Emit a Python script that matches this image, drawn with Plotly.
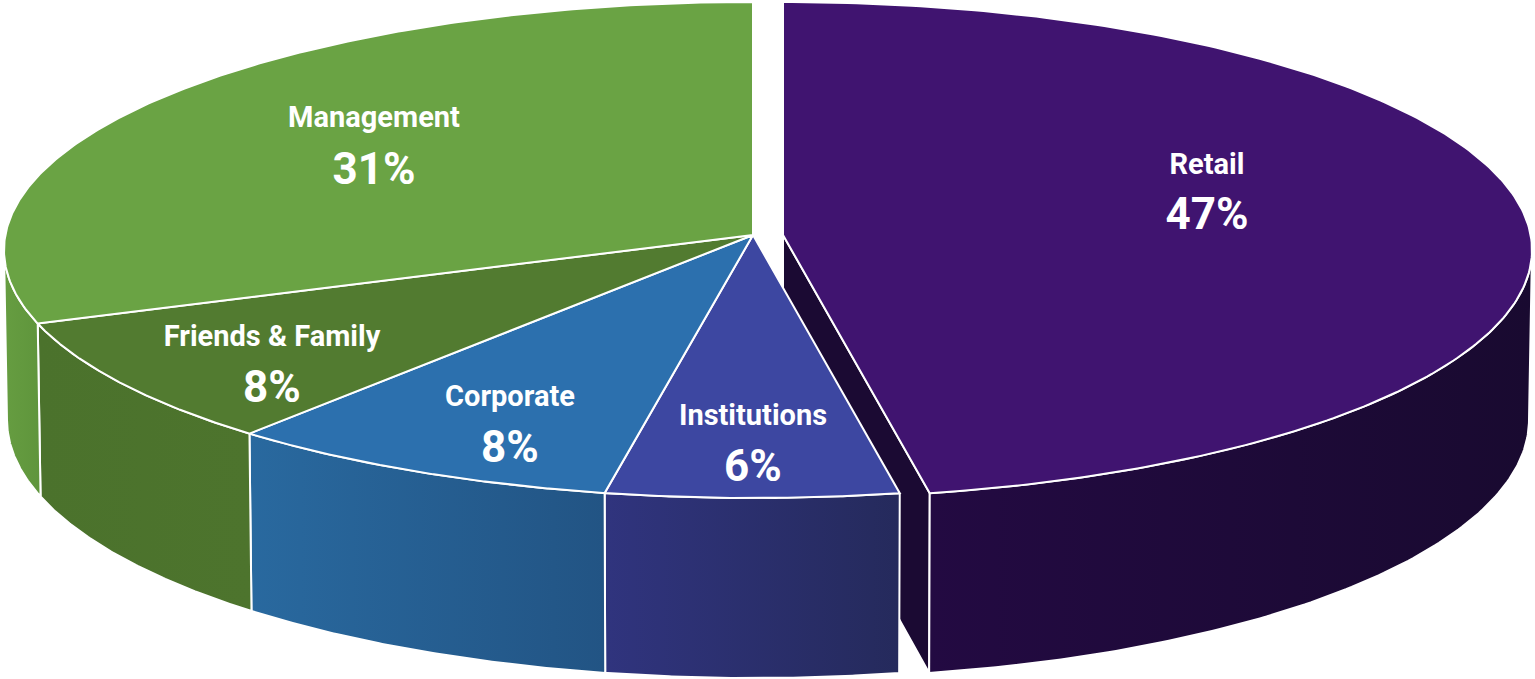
import numpy as np
import plotly.graph_objects as go

# Shareholding split, clockwise from twelve o'clock
categories = ["Retail", "Institutions", "Corporate", "Friends & Family", "Management"]
shares = [47, 6, 8, 8, 31]

# Styling per slice: top face, wall gradient start and end
TOP_COLORS = ["#401470", "#3D47A1", "#2C70AE", "#527B30", "#6AA344"]
WALL_COLORS = [
    ("#230A42", "#190A30"),
    ("#30347E", "#252A5C"),
    ("#29699F", "#225484"),
    ("#4B722C", "#4D742D"),
    ("#669D41", "#5F953C"),
]

# Projection of the tilted disc onto the canvas
WIDTH, HEIGHT = 1535, 679
CX_MAIN, CX_EXPLODED = 753, 783
APEX_Y = 235
TOP_RX, TOP_RY, TOP_CY = 749, 248, 250
BOT_RX, BOT_RY, BOT_CY = 746, 258, 420
BOT_APEX_Y = 411

# Label anchors: x, name line y, percentage line y
LABEL_POS = {
    "Retail": (1207, 167, 218),
    "Institutions": (753, 418, 470),
    "Corporate": (510, 399, 451),
    "Friends & Family": (272, 339, 391),
    "Management": (374, 120, 173),
}
FONT = "Roboto, Liberation Sans, Arial, sans-serif"


def perspective(theta):
    """Foreshortening of a slice angle (degrees) on the tilted disc."""
    t = np.radians(theta)
    return theta - 3.0 * np.sin(t) + 1.8 * np.sin(t) ** 2


def rim(cx, theta, rx, ry, cy):
    t = np.radians(theta)
    return cx + rx * np.sin(t), cy - ry * np.cos(t)


def add_poly(fig, x, y, color=None, gradient=None):
    if gradient:
        style = dict(fillgradient=dict(type="horizontal", colorscale=[[0, gradient[0]], [1, gradient[1]]]))
    else:
        style = dict(fillcolor=color)
    fig.add_trace(go.Scatter(
        x=x, y=y, mode="lines", fill="toself",
        line=dict(color="white", width=2),
        hoverinfo="skip", showlegend=False, **style,
    ))


edges = np.concatenate([[0], np.cumsum(shares)]) * 3.6
fig = go.Figure()

# The pulled-out slice goes first so the rest of the disc overlaps its cut face
retail_end = perspective(edges[1])
ex, ey = rim(CX_EXPLODED, retail_end, TOP_RX, TOP_RY, TOP_CY)
bx, by = rim(CX_EXPLODED, retail_end, BOT_RX, BOT_RY, BOT_CY)
add_poly(fig, [CX_EXPLODED, ex, bx, CX_EXPLODED, CX_EXPLODED],
         [APEX_Y, ey, by, BOT_APEX_Y, APEX_Y], color="#1B0A33")

for i, name in enumerate(categories):
    cx = CX_EXPLODED if i == 0 else CX_MAIN
    a0, a1 = perspective(edges[i]), perspective(edges[i + 1])
    # Outer wall, only the part facing the viewer
    w0, w1 = max(a0, 90), min(a1, 270)
    if w1 > w0:
        th = np.linspace(w0, w1, 120)
        tx, ty = rim(cx, th, TOP_RX, TOP_RY, TOP_CY)
        lx, ly = rim(cx, th[::-1], BOT_RX, BOT_RY, BOT_CY)
        add_poly(fig,
                 np.concatenate([tx, lx, tx[:1]]),
                 np.concatenate([ty, ly, ty[:1]]),
                 gradient=WALL_COLORS[i])

for i, name in enumerate(categories):
    cx = CX_EXPLODED if i == 0 else CX_MAIN
    th = np.linspace(perspective(edges[i]), perspective(edges[i + 1]), 240)
    tx, ty = rim(cx, th, TOP_RX, TOP_RY, TOP_CY)
    add_poly(fig,
             np.concatenate([[cx], tx, [cx]]),
             np.concatenate([[APEX_Y], ty, [APEX_Y]]),
             color=TOP_COLORS[i])

names_x, names_y, pct_x, pct_y, pct_text = [], [], [], [], []
for name, share in zip(categories, shares):
    px, ny, py = LABEL_POS[name]
    names_x.append(px)
    names_y.append(ny)
    pct_x.append(px)
    pct_y.append(py)
    pct_text.append(f"{share}%")

fig.add_trace(go.Scatter(
    x=names_x, y=names_y, text=categories, mode="text", textposition="middle center",
    textfont=dict(family=FONT, size=29, color="white", weight=700),
    hoverinfo="skip", showlegend=False,
))
fig.add_trace(go.Scatter(
    x=pct_x, y=pct_y, text=pct_text, mode="text", textposition="middle center",
    textfont=dict(family=FONT, size=44, color="white", weight=700),
    hoverinfo="skip", showlegend=False,
))

fig.update_layout(
    width=WIDTH, height=HEIGHT,
    margin=dict(l=0, r=0, t=0, b=0),
    paper_bgcolor="white", plot_bgcolor="white",
    xaxis=dict(range=[0, WIDTH], visible=False, fixedrange=True),
    yaxis=dict(range=[HEIGHT, 0], visible=False, fixedrange=True),
)
fig.write_html("out.html", config={"displayModeBar": False})
